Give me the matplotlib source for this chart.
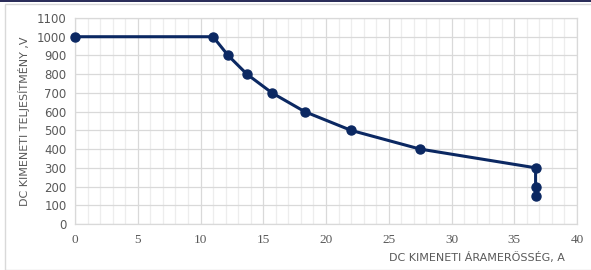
import numpy as np
import matplotlib.pyplot as plt
from matplotlib.ticker import MultipleLocator
from matplotlib.patches import Rectangle

# current (A) vs power/voltage (V)
current = [0, 11, 12.2, 13.7, 15.7, 18.3, 22, 27.5, 36.7, 36.7, 36.7]
voltage = [1000, 1000, 900, 800, 700, 600, 500, 400, 300, 200, 150]

x_label = 'DC KIMENETI ÁRAMERŐSSÉG, A'
y_label = 'DC KIMENETI TELJESÍTMÉNY ,V'

navy = '#0B2862'
tick_col = '#595959'

fig = plt.figure(figsize=(5.91, 2.70), dpi=100)
ax = fig.add_axes([75/591, 1-224/270, (577-75)/591, (224-18)/270])

# outer chart frame
fig.patches.append(Rectangle((5/591, 0), 1, 1-4/270, transform=fig.transFigure,
                             fill=False, edgecolor='#d9d9d9', lw=1))
fig.patches.append(Rectangle((0, 1-1.5/270), 1, 1.5/270, transform=fig.transFigure,
                             facecolor='#2b2d5a', edgecolor='none'))

ax.plot(current, voltage, '-o', color=navy, lw=2.2, ms=6.5, clip_on=False, zorder=3)

ax.set_xlim(0, 40)
ax.set_ylim(0, 1100)
ax.xaxis.set_major_locator(MultipleLocator(5))
ax.xaxis.set_minor_locator(MultipleLocator(1))
ax.yaxis.set_major_locator(MultipleLocator(100))
ax.grid(which='major', color='#d9d9d9', lw=0.9)
ax.grid(which='minor', axis='x', color='#ededed', lw=0.9)
ax.set_axisbelow(True)

for s in ax.spines.values():
    s.set_color('#d9d9d9')
    s.set_linewidth(0.9)

ax.tick_params(which='both', length=0, colors=tick_col)
ax.tick_params(axis='y', labelsize=8.5, pad=6)
ax.tick_params(axis='x', labelsize=9.5, pad=7)
for lbl in ax.get_xticklabels():
    lbl.set_family('Liberation Serif')

ax.set_xlabel(x_label, fontsize=8, color=tick_col)
ax.xaxis.set_label_coords(0.8, -0.135)
ax.set_ylabel(y_label, fontsize=8, color=tick_col)
ax.yaxis.set_label_coords(-0.09, 0.5)

fig.savefig('out.png', dpi=100)
